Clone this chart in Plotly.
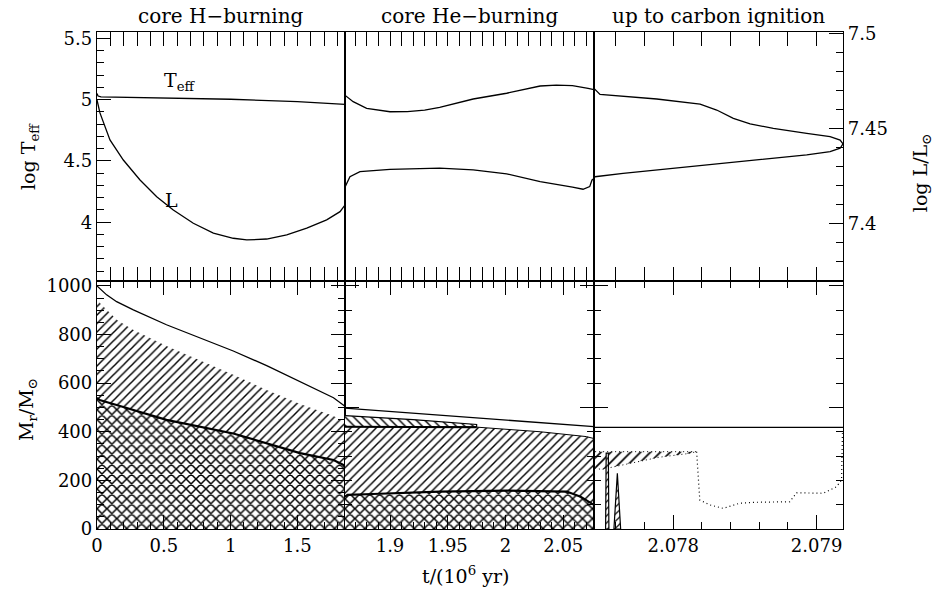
import plotly.graph_objects as go

FONT = "DejaVu Serif"

# ---------------- data ----------------
# top row: core H burning
t_H_teff = [0, 0.008, 0.03, 0.5, 1.0, 1.5, 1.8, 1.856]
teff_H = [5.05, 5.03, 5.024, 5.012, 5.004, 4.984, 4.965, 4.962]
t_H_L = [0, 0.022, 0.097, 0.197, 0.322, 0.447, 0.571, 0.721, 0.871, 1.020, 1.121,
         1.270, 1.420, 1.570, 1.719, 1.819, 1.856]
L_H = [7.4649, 7.4581, 7.4439, 7.4333, 7.4228, 7.4140, 7.4070, 7.4000, 7.3948, 7.3921,
       7.3912, 7.3917, 7.3939, 7.3974, 7.4018, 7.4061, 7.4096]

# top row: core He burning
t_He_teff = [1.8612, 1.8681, 1.8798, 1.900, 1.915, 1.930, 1.943, 1.972, 2.001, 2.030,
             2.044, 2.058, 2.0715, 2.0766]
teff_He = [5.035, 4.984, 4.930, 4.902, 4.903, 4.915, 4.938, 5.006, 5.053, 5.112,
           5.120, 5.115, 5.093, 5.082]
t_He_L = [1.8612, 1.8653, 1.874, 1.900, 1.943, 1.972, 2.001, 2.030, 2.058, 2.0671,
          2.0729, 2.0749, 2.0766]
L_He = [7.4193, 7.4245, 7.4272, 7.4284, 7.4290, 7.4281, 7.4260, 7.4219, 7.4190, 7.4179,
        7.4193, 7.4228, 7.4235]

# top row: up to carbon ignition
t_C_teff = [2.077447, 2.077489, 2.077885, 2.078187, 2.078303, 2.078419, 2.078536,
            2.078698, 2.078931, 2.079094, 2.079164, 2.079184]
teff_C = [5.093, 5.044, 5.006, 4.965, 4.916, 4.848, 4.802, 4.767, 4.726, 4.698, 4.671, 4.639]
t_C_L = [2.077447, 2.077454, 2.07765, 2.078, 2.078349, 2.078698, 2.078931, 2.079094,
         2.079164, 2.079184]
L_C = [7.4239, 7.4245, 7.4263, 7.4290, 7.4316, 7.4342, 7.4360, 7.4377, 7.4395, 7.4418]

# bottom row: core H burning (Kippenhahn)
t_H_tot = [0, 0.072, 0.147, 0.272, 0.52, 0.77, 1.02, 1.27, 1.52, 1.77, 1.856]
M_H_tot = [1000, 963, 935, 901, 840, 786, 732, 672, 605, 540, 505]
t_H_env = [0, 0.022, 0.15, 0.27, 0.52, 0.77, 1.02, 1.27, 1.52, 1.77, 1.856]
M_H_env = [950, 930, 860, 819, 753, 695, 634, 572, 514, 465, 440]
t_H_core = [0, 0.02, 0.147, 0.52, 1.02, 1.52, 1.77, 1.84, 1.856]
M_H_core = [540, 530, 510, 449, 393, 312, 284, 265, 255]

# bottom row: core He burning
t_He_tot = [1.861, 2.0766]
M_He_tot = [497, 421]
t_He_semi = [1.861, 1.92, 1.975]
M_He_semi_top = [466, 450, 430]
M_He_semi_bot = [421, 420, 419]
t_He_env = [1.861, 1.975, 2.03, 2.07, 2.0766]
M_He_env = [421, 419, 400, 380, 372]
t_He_core = [1.861, 1.8632, 1.885, 1.943, 2.001, 2.053, 2.065, 2.0766]
M_He_core = [133, 140, 144, 154, 158, 154, 133, 99]

# bottom row: up to carbon ignition
t_C_tot = [2.077447, 2.079184]
M_C_tot = [418, 418]
t_C_shell = [2.077455, 2.0775, 2.0777, 2.0779, 2.0781, 2.078163]
M_C_shell_top = [318, 318, 318, 318, 318, 318]
M_C_shell_bot = [250, 245, 270, 295, 310, 318]
t_C_dot = [2.078163, 2.078185, 2.078255, 2.078348, 2.078464, 2.078581, 2.078813,
           2.07886, 2.079046, 2.079139, 2.079174, 2.07918]
M_C_dot = [318, 119, 99, 85, 106, 110, 112, 149, 147, 174, 202, 394]
t_C_spike1 = [2.077528, 2.077532, 2.077547, 2.077551]
M_C_spike1 = [0, 312, 312, 0]
t_C_spike2 = [2.077586, 2.07761, 2.077633]
M_C_spike2 = [0, 229, 0]

# axes ranges / ticks
x_ranges = [[0, 1.856], [1.861, 2.0766], [2.077447, 2.079184]]
x_tickvals = [[0, 0.5, 1, 1.5], [1.9, 1.95, 2.0, 2.05], [2.078, 2.079]]
x_ticktext = [["0", "0.5", "1", "1.5"], ["1.9", "1.95", "2", "2.05"], ["2.078", "2.079"]]
x_minor = [0.1, 0.01, 0.0002]
teff_range = [3.52, 5.553]
teff_ticks = [4, 4.5, 5, 5.5]
L_range = [7.3696, 7.5007]
L_ticks = [7.4, 7.45, 7.5]
M_range = [0, 1020]
M_ticks = [0, 200, 400, 600, 800, 1000]
titles = ["core H\u2212burning", "core He\u2212burning", "up to carbon ignition"]

# ---------------- figure ----------------
fig = go.Figure()


def line(x, y, xa, ya, w=1.3, dash=None):
    fig.add_trace(go.Scatter(x=x, y=y, xaxis=xa, yaxis=ya, mode="lines",
                             line=dict(color="black", width=w, dash=dash),
                             showlegend=False, hoverinfo="skip"))


def region(xu, yu, xl, yl, xa, ya, shape, size, sol, lw=0, dash=None):
    x = list(xu) + list(xl)[::-1]
    y = list(yu) + list(yl)[::-1]
    fig.add_trace(go.Scatter(x=x, y=y, xaxis=xa, yaxis=ya, mode="lines", fill="toself",
                             fillcolor="#ffffff",
                             fillpattern=dict(shape=shape, size=size, solidity=sol,
                                              fgcolor="#000000", bgcolor="#ffffff",
                                              fgopacity=1, fillmode="replace"),
                             line=dict(color="black", width=lw, dash=dash),
                             opacity=1,
                             showlegend=False, hoverinfo="skip"))


HS, HSOL = 6, 0.24    # single hatch
XS, XSOL = 7, 0.38    # cross hatch

# top row
line(t_H_teff, teff_H, "x", "y")
line(t_H_L, L_H, "x", "y7")
line(t_He_teff, teff_He, "x2", "y2")
line(t_He_L, L_He, "x2", "y8")
line(t_C_teff, teff_C, "x3", "y3")
line(t_C_L, L_C, "x3", "y9")

# bottom row panel 1
region(t_H_env, M_H_env, t_H_core, M_H_core, "x4", "y4", "/", HS, HSOL)
region(t_H_core, M_H_core, [t_H_core[0], t_H_core[-1]], [0, 0], "x4", "y4", "x", XS, XSOL)
line(t_H_core, M_H_core, "x4", "y4", w=2.2)
line(t_H_tot, M_H_tot, "x4", "y4")

# bottom row panel 2
region(t_He_semi, M_He_semi_top, t_He_semi, M_He_semi_bot, "x5", "y5", "\\", HS, HSOL, lw=1.2)
region(t_He_env, M_He_env, t_He_core, M_He_core, "x5", "y5", "/", HS, HSOL)
region(t_He_core, M_He_core, [t_He_core[0], t_He_core[-1]], [0, 0], "x5", "y5", "x", XS, XSOL)
line(t_He_env, M_He_env, "x5", "y5", w=1.0)
line(t_He_semi, M_He_semi_bot, "x5", "y5", w=2.0)
line(t_He_core, M_He_core, "x5", "y5", w=2.2)
line(t_He_tot, M_He_tot, "x5", "y5")

# bottom row panel 3
region(t_C_shell, M_C_shell_top, t_C_shell, M_C_shell_bot, "x6", "y6", "/", 7, HSOL, lw=1,
       dash="1px,3px")
region(t_C_spike1, M_C_spike1, [t_C_spike1[0], t_C_spike1[-1]], [0, 0], "x6", "y6", "/", 5, HSOL, lw=1.2)
region(t_C_spike2, M_C_spike2, [t_C_spike2[0], t_C_spike2[-1]], [0, 0], "x6", "y6", "/", 5, HSOL, lw=1.2)
line(t_C_dot, M_C_dot, "x6", "y6", w=1.2, dash="1px,3px")
line(t_C_tot, M_C_tot, "x6", "y6")

# ---------------- layout ----------------
d1, d2 = 0.3324, 0.6662
xdoms = [[0, d1], [d1, d2], [d2, 1]]
top_dom = [0.499, 1]
bot_dom = [0, 0.499]
tickfont = dict(family=FONT, size=18, color="black")
base = dict(showline=True, linecolor="black", linewidth=1.3, showgrid=False, zeroline=False,
            tickcolor="black", tickwidth=1.2, ticklen=14, tickfont=tickfont)

lay = {}
for i in range(3):
    lay["xaxis" + ("" if i == 0 else str(i + 1))] = dict(
        base, domain=xdoms[i], range=x_ranges[i], anchor="y" + ("" if i == 0 else str(i + 1)),
        ticks="inside", mirror="allticks", tickmode="array", tickvals=x_tickvals[i],
        showticklabels=False,
        minor=dict(dtick=x_minor[i], tick0=x_tickvals[i][0], ticks="inside", ticklen=7,
                   tickcolor="black", tickwidth=1))
    lay["xaxis" + str(i + 4)] = dict(
        base, domain=xdoms[i], range=x_ranges[i], anchor="y" + str(i + 4),
        ticks="inside", mirror="allticks", tickmode="array", tickvals=x_tickvals[i],
        ticktext=x_ticktext[i], showticklabels=True,
        minor=dict(dtick=x_minor[i], tick0=x_tickvals[i][0], ticks="inside", ticklen=7,
                   tickcolor="black", tickwidth=1))

lay["yaxis"] = dict(base, domain=top_dom, range=teff_range, anchor="x", ticks="inside",
                    mirror=True, tickmode="array", tickvals=teff_ticks,
                    ticktext=["4", "4.5", "5", "5.5"],
                    minor=dict(dtick=0.1, tick0=4, ticks="inside", ticklen=7,
                               tickcolor="black", tickwidth=1))
lay["yaxis2"] = dict(base, domain=top_dom, range=teff_range, anchor="x2", ticks="",
                     mirror=True, showticklabels=False)
lay["yaxis3"] = dict(base, domain=top_dom, range=teff_range, anchor="x3", ticks="",
                     mirror=True, showticklabels=False)
lay["yaxis7"] = dict(range=L_range, overlaying="y", anchor="x", visible=False)
lay["yaxis8"] = dict(range=L_range, overlaying="y2", anchor="x2", visible=False)
lay["yaxis9"] = dict(base, range=L_range, overlaying="y3", anchor="x3", side="right",
                     ticks="inside", tickmode="array", tickvals=L_ticks,
                     ticktext=["7.4", "7.45", "7.5"],
                     minor=dict(dtick=0.01, tick0=7.4, ticks="inside", ticklen=7,
                                tickcolor="black", tickwidth=1))
lay["yaxis4"] = dict(base, domain=bot_dom, range=M_range, anchor="x4", ticks="inside",
                     mirror="allticks", tickmode="array", tickvals=M_ticks,
                     minor=dict(dtick=50, tick0=0, ticks="inside", ticklen=7,
                                tickcolor="black", tickwidth=1))
for k, xa in (("yaxis5", "x5"), ("yaxis6", "x6")):
    lay[k] = dict(base, domain=bot_dom, range=M_range, anchor=xa, ticks="inside",
                  mirror="allticks", tickmode="array", tickvals=[0, 500, 1000],
                  showticklabels=False,
                  minor=dict(dtick=100, tick0=0, ticks="inside", ticklen=7,
                             tickcolor="black", tickwidth=1))

annots = []
for i in range(3):
    annots.append(dict(text=titles[i], x=(xdoms[i][0] + xdoms[i][1]) / 2, y=1.033,
                       xref="paper", yref="paper", showarrow=False, xanchor="center",
                       yanchor="middle", font=dict(family=FONT, size=20, color="black")))
axfont = dict(family=FONT, size=19, color="black")
ax_titles = [
    dict(text="log T<sub>eff</sub>", x=-0.0898, y=0.7485, textangle=-90),
    dict(text="log L/L<sub>\u2299</sub>", x=1.1046, y=0.716, textangle=-90),
    dict(text="M<sub>r</sub>/M<sub>\u2299</sub>", x=-0.0938, y=0.2394, textangle=-90),
    dict(text="t/(10<sup>6</sup> yr)", x=0.4933, y=-0.0926, textangle=0),
]
for a in ax_titles:
    a.update(xref="paper", yref="paper", showarrow=False, xanchor="center",
             yanchor="middle", font=axfont)
annots += ax_titles
annots += [
    dict(text="T<sub>eff</sub>", x=0.62, y=5.15, xref="x", yref="y", showarrow=False,
         font=axfont),
    dict(text="L", x=0.56, y=4.18, xref="x", yref="y", showarrow=False, font=axfont),
]

fig.update_layout(
    width=933, height=592, margin=dict(l=97, r=90, t=32, b=63),
    paper_bgcolor="white", plot_bgcolor="white", showlegend=False,
    annotations=annots, **lay)

fig.write_html("out.html", config={"displayModeBar": False},
               post_script="document.body.style.margin='0';document.body.style.overflow='hidden';")
